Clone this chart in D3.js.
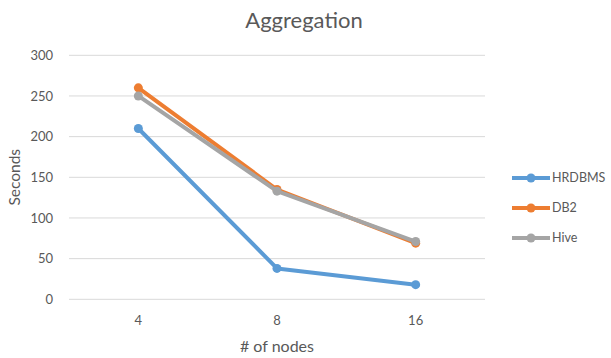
<!DOCTYPE html>
<html>
<head>
<meta charset="utf-8">
<script src="https://cdn.jsdelivr.net/npm/d3@7"></script>
<style>
  html, body { margin: 0; padding: 0; background: #fff; }
  svg { display: block; }
  text { font-family: Lato, "Open Sans", "Liberation Sans", sans-serif; fill: #595959; }
</style>
</head>
<body>
<svg id="chart" width="611" height="358"></svg>
<script>
// Aggregation query time by cluster size
const nodes = ["4", "8", "16"];
const hrdbms = [210, 38, 18];
const db2 = [260, 135, 69];
const hive = [250, 133, 71];
const seriesNames = ["HRDBMS", "DB2", "Hive"];
const seriesColors = ["#5B9BD5", "#ED7D31", "#A5A5A5"];
const yTicks = [0, 50, 100, 150, 200, 250, 300];

const series = [hrdbms, db2, hive].map((values, i) => ({
  name: seriesNames[i], color: seriesColors[i], values
}));

const svg = d3.select("#chart");
const margin = { left: 69, right: 126, top: 55.3, bottom: 58.7 };
const W = 611, H = 358;

const x = d3.scaleBand().domain(nodes).range([margin.left, W - margin.right]);
const y = d3.scaleLinear().domain([0, 300]).range([H - margin.bottom, margin.top]);

// Gridlines
svg.append("g")
  .selectAll("line")
  .data(yTicks)
  .join("line")
  .attr("x1", margin.left).attr("x2", W - margin.right)
  .attr("y1", d => y(d)).attr("y2", d => y(d))
  .attr("stroke", "#D9D9D9").attr("stroke-width", 1);

// Y axis labels
const yAxis = svg.append("g")
  .attr("transform", `translate(${margin.left},0)`)
  .call(d3.axisLeft(y).tickValues(yTicks).tickSize(0).tickPadding(16));
yAxis.select(".domain").remove();
yAxis.selectAll("text")
  .attr("font-size", 13)
  .style("font-family", "Lato, 'Open Sans', sans-serif")
  .attr("fill", "#595959");

// X axis labels
const xAxis = svg.append("g")
  .attr("transform", `translate(0,${y(0)})`)
  .call(d3.axisBottom(x).tickSize(0).tickPadding(16));
xAxis.select(".domain").remove();
xAxis.selectAll("text")
  .attr("font-size", 13)
  .style("font-family", "Lato, 'Open Sans', sans-serif")
  .attr("fill", "#595959");

// Series lines and markers
const line = d3.line()
  .x((d, i) => x(nodes[i]) + x.bandwidth() / 2)
  .y(d => y(d));

series.forEach(s => {
  const g = svg.append("g");
  g.append("path")
    .datum(s.values)
    .attr("d", line)
    .attr("fill", "none")
    .attr("stroke", s.color)
    .attr("stroke-width", 4)
    .attr("stroke-linejoin", "round")
    .attr("stroke-linecap", "round");
  g.selectAll("circle")
    .data(s.values)
    .join("circle")
    .attr("cx", (d, i) => x(nodes[i]) + x.bandwidth() / 2)
    .attr("cy", d => y(d))
    .attr("r", 4.5)
    .attr("fill", s.color);
});

// Title
svg.append("text")
  .attr("x", 304).attr("y", 28)
  .attr("text-anchor", "middle")
  .attr("font-size", 22)
  .text("Aggregation");

// Axis titles
svg.append("text")
  .attr("transform", `translate(20,${(y(0) + y(300)) / 2}) rotate(-90)`)
  .attr("text-anchor", "middle")
  .attr("font-size", 15.5)
  .text("Seconds");

svg.append("text")
  .attr("x", x("8") + x.bandwidth() / 2).attr("y", 352)
  .attr("text-anchor", "middle")
  .attr("font-size", 16)
  .text("# of nodes");

// Legend
const legend = svg.append("g").attr("transform", "translate(512,178)");
series.forEach((s, i) => {
  const row = legend.append("g").attr("transform", `translate(0,${i * 30})`);
  row.append("line")
    .attr("x1", 0).attr("x2", 38).attr("y1", 0).attr("y2", 0)
    .attr("stroke", s.color).attr("stroke-width", 4);
  row.append("circle").attr("cx", 19).attr("cy", 0).attr("r", 4.5).attr("fill", s.color);
  row.append("text")
    .attr("x", 40).attr("y", 0).attr("dy", "0.35em")
    .attr("font-size", 12.5)
    .text(s.name);
});
</script>
</body>
</html>
